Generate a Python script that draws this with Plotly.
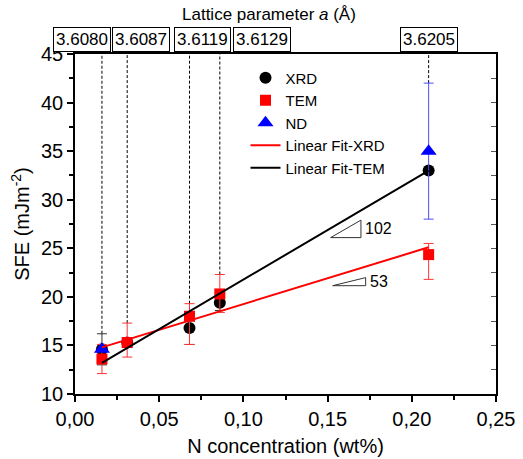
import plotly.graph_objects as go

# ---- data ----
n_conc = [0.016, 0.031, 0.068, 0.086, 0.21]
xrd = [14.6, 15.3, 16.8, 19.4, 33.0]
xrd_err_plus = [1.6, 0.5, 1.7, 0.8, 0.0]
xrd_err_minus = [1.6, 0.5, 1.7, 0.8, 0.0]
tem = [13.6, 15.3, 18.0, 20.3, 24.35]
tem_err_plus = [1.5, 2.0, 1.3, 2.0, 1.15]
tem_err_minus = [1.5, 1.5, 2.9, 1.9, 2.55]
nd_x = [0.016, 0.21]
nd = [14.6, 35.0]
nd_err = [0.0, 7.0]
fit_x = [0.016, 0.21]
fit_red = [14.8, 25.1]   # labelled "Linear Fit-XRD"
fit_black = [13.2, 33.0]  # labelled "Linear Fit-TEM"
lattice = ["3.6080", "3.6087", "3.6119", "3.6129", "3.6205"]
slope_labels = ["102", "53"]
# dashed-line bottoms: top of highest error bar at each concentration
dash_bottom = [16.2, 17.3, 19.3, 22.3, 42.0]

FONT = "Liberation Sans, Arial, sans-serif"

fig = go.Figure()

fig.add_trace(go.Scatter(
    x=n_conc, y=xrd, mode="markers", name="XRD",
    marker=dict(symbol="circle", size=12, color="black"),
    error_y=dict(type="data", array=xrd_err_plus, arrayminus=xrd_err_minus,
                 color="#333333", thickness=1, width=5)))
fig.add_trace(go.Scatter(
    x=n_conc, y=tem, mode="markers", name="TEM",
    marker=dict(symbol="square", size=11, color="#ff0000"),
    error_y=dict(type="data", array=tem_err_plus, arrayminus=tem_err_minus,
                 color="#ff3333", thickness=1, width=5)))
fig.add_trace(go.Scatter(
    x=nd_x, y=nd, mode="markers", name="ND",
    marker=dict(symbol="triangle-up", size=14, color="#0000ff"),
    error_y=dict(type="data", array=nd_err, color="#4d4dff", thickness=1, width=5)))
fig.add_trace(go.Scatter(
    x=fit_x, y=fit_red, mode="lines", name="Linear Fit-XRD",
    line=dict(color="#ff0000", width=2)))
fig.add_trace(go.Scatter(
    x=fit_x, y=fit_black, mode="lines", name="Linear Fit-TEM",
    line=dict(color="#000000", width=2)))

# empty trace so the right-hand tick axis is drawn
fig.add_trace(go.Scatter(x=[None], y=[None], yaxis="y2", showlegend=False,
                         hoverinfo="skip"))

shapes = []
for xv, yb in zip(n_conc, dash_bottom):
    shapes.append(dict(type="line", xref="x", yref="y", x0=xv, x1=xv, y0=yb, y1=45,
                       line=dict(color="black", width=1, dash="3px,2px"), layer="below"))

# slope triangles (open right triangles)
tri = [((0.1518, 26.1), (0.1698, 27.9)), ((0.153, 21.15), (0.1726, 21.98))]
for (xa, ya), (xb, yb) in tri:
    shapes.append(dict(type="path", xref="x", yref="y",
                       path=f"M {xa} {ya} L {xb} {ya} L {xb} {yb} Z",
                       line=dict(color="#333333", width=1)))

annotations = []
for lab, ((xa, ya), (xb, yb)) in zip(slope_labels, tri):
    annotations.append(dict(x=xb, y=(ya + yb) / 2, xref="x", yref="y", text=lab,
                            showarrow=False, xanchor="left", xshift=2,
                            font=dict(size=16, color="black", family=FONT)))

shifts = [-20, 14, 12.5, 42, 0]
for xv, lab, sh in zip(n_conc, lattice, shifts):
    annotations.append(dict(x=xv, y=1, xref="x", yref="paper", text=lab,
                            showarrow=False, xanchor="center", yanchor="bottom",
                            xshift=sh, yshift=2,
                            bordercolor="black", borderwidth=1, borderpad=2,
                            bgcolor="white",
                            font=dict(size=17, color="black", family=FONT)))

annotations.append(dict(x=0.461, y=1, xref="paper", yref="paper",
                        text="Lattice parameter <i>a</i> (Å)", showarrow=False,
                        xanchor="center", yanchor="bottom", yshift=28,
                        font=dict(size=17, color="black", family=FONT)))

fig.update_layout(
    width=523, height=459,
    margin=dict(l=75, r=27, t=54, b=65, autoexpand=False),
    paper_bgcolor="white", plot_bgcolor="white",
    separators=", ",
    font=dict(family=FONT, color="black"),
    shapes=shapes, annotations=annotations,
    showlegend=True,
    legend=dict(x=0.405, y=0.978, xanchor="left", yanchor="top",
                bgcolor="rgba(0,0,0,0)", font=dict(size=15, family=FONT),
                itemwidth=30, traceorder="normal"),
    xaxis=dict(range=[0, 0.25], dtick=0.05, tickformat=".2f", automargin=False,
               showline=True, linecolor="black", linewidth=1.5, mirror=True,
               ticks="outside", ticklen=6, tickwidth=1.5, tickcolor="black",
               minor=dict(ticks="outside", ticklen=4, dtick=0.025, tickcolor="black"),
               showgrid=False, zeroline=False,
               tickfont=dict(size=20), title=dict(text="N concentration (wt%)",
                                                  font=dict(size=20), standoff=10)),
    yaxis=dict(range=[10, 45], dtick=5, automargin=False,
               showline=True, linecolor="black", linewidth=1.5, mirror=True,
               ticks="outside", ticklen=6, tickwidth=1.5, tickcolor="black",
               minor=dict(ticks="outside", ticklen=4, dtick=2.5, tickcolor="black"),
               showgrid=False, zeroline=False,
               tickfont=dict(size=20), title=dict(text="SFE (mJm<sup>-2</sup>)",
                                                  font=dict(size=20), standoff=6)),
    yaxis2=dict(range=[10, 45], overlaying="y", side="right", dtick=2.5,
                ticks="inside", ticklen=5, tickcolor="#555555", automargin=False,
                showticklabels=False, showgrid=False, zeroline=False, showline=False),
)

fig.write_html("out.html", config={"displayModeBar": False},
               post_script="document.body.style.margin='0';document.body.style.overflow='hidden';")
